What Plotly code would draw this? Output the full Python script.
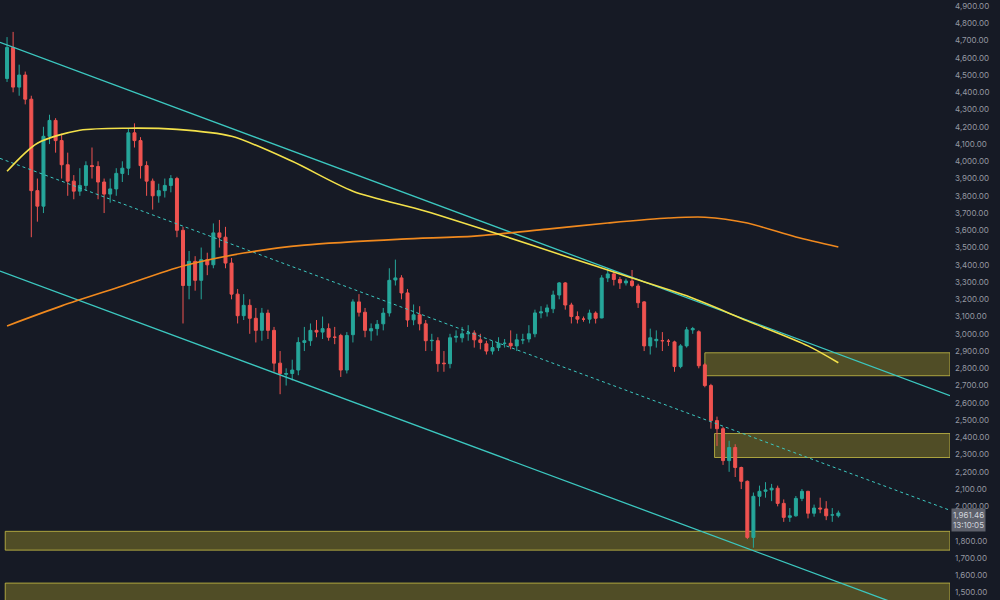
import plotly.graph_objects as go

opens = [4480,4660,4430,4500,4360,3830,3740,4145,4237,4120,3980,3885,3827,3860,3975,3970,3880,3810,3840,3930,
 3960,4165,4120,3975,3885,3800,3830,3860,3900,3600,3280,3420,3310,3430,3400,3585,3560,3410,3230,3105,
 3165,3090,3020,3120,3020,2830,2765,2770,2790,2950,2960,3020,3010,3030,2980,2990,2790,2995,3185,3125,
 3017,3030,3058,3121,3312,3324,3237,3081,3110,3058,2960,2960,2830,2827,2980,2977,3000,3005,2965,2942,
 2900,2920,2945,2945,2930,2965,2970,3000,3121,3127,3145,3225,3295,3167,3100,3085,3085,3120,3092,3324,
 3347,3315,3295,3306,3277,3185,2930,2960,2960,2957,2953,2810,2930,3023,3012,2820,2700,2497,2450,2265,
 2341,2225,2145,1820,2058,2087,2095,2105,2017,1936,1945,2046,2087,1960,1990,1985,1950,1945]
closes = [4660,4430,4500,4360,3830,3740,4145,4237,4120,3980,3885,3827,3860,3975,3970,3880,3810,3840,3930,3960,
 4165,4120,3975,3885,3800,3830,3860,3900,3600,3280,3420,3310,3430,3400,3585,3560,3410,3230,3105,3165,
 3090,3020,3120,3020,2830,2770,2770,2790,2950,2960,3020,3010,3030,2980,2980,2790,2990,3185,3125,3020,
 3030,3055,3120,3310,3324,3237,3080,3110,3058,2960,2962,2827,2827,2977,2985,3000,3005,2965,2950,2900,
 2920,2945,2945,2930,2965,2965,3000,3121,3127,3150,3225,3295,3167,3100,3085,3085,3120,3090,3324,3347,
 3315,3295,3306,3280,3180,2930,2977,2968,2960,2957,2810,2930,3023,3030,2815,2700,2497,2450,2265,2341,
 2225,2145,1820,2058,2087,2095,2105,2017,1936,1945,2046,2087,1960,1990,1985,1945,1950,1961.46]
highs = [4720,4750,4560,4520,4380,3900,4200,4270,4250,4160,4050,3920,3960,4000,4080,4000,3900,3900,3960,4000,
 4190,4220,4140,4000,3900,3870,3900,3920,3910,3620,3480,3450,3500,3470,3640,3660,3620,3440,3260,3230,
 3200,3150,3150,3140,3040,2900,2800,2850,2980,3040,3060,3080,3100,3060,3040,3000,3010,3200,3230,3150,
 3060,3080,3150,3380,3430,3340,3260,3170,3160,3080,3000,2980,2900,3000,3020,3040,3050,3020,3000,2960,
 2960,2980,2970,3020,3000,3000,3050,3140,3160,3170,3250,3300,3300,3180,3130,3100,3140,3130,3340,3380,
 3360,3330,3320,3370,3290,3190,3030,3020,3010,2970,2960,2940,3040,3040,3020,2830,2710,2520,2460,2380,
 2360,2230,2150,2080,2120,2140,2130,2120,2040,1990,2060,2100,2090,2010,2050,2030,1990,1975]
lows = [4460,4400,4380,4330,3560,3650,3700,4100,4050,3900,3800,3780,3800,3830,3900,3780,3700,3760,3800,3880,
 3920,4080,3900,3800,3720,3760,3790,3820,3560,3060,3200,3250,3200,3340,3380,3500,3380,3200,3060,3080,
 3000,2950,2960,2970,2780,2650,2700,2730,2760,2900,2930,2980,2970,2960,2940,2750,2770,2950,3100,2980,
 2960,2990,3020,3100,3280,3200,3040,3050,3020,2900,2900,2780,2780,2800,2950,2950,2960,2920,2910,2880,
 2880,2900,2920,2910,2900,2940,2950,2980,3090,3100,3120,3200,3140,3060,3060,3070,3060,3060,3090,3300,
 3280,3260,3280,3270,3150,2900,2880,2920,2900,2930,2780,2800,2920,3000,2800,2690,2450,2350,2240,2200,
 2170,2100,1810,1760,2000,2050,2030,2000,1910,1910,1940,2030,1930,1940,1960,1920,1910,1935]

ma_fast_idx = [0,5,12,20,28,37,47,57,69,82,92,102,112,122,132,137]
ma_fast_val = [3942,4105,4180,4192,4185,4145,4000,3827,3711,3566,3450,3335,3220,3075,2930,2832]
ma_slow_idx = [0,9,19,29,39,49,65,77,89,99,109,115,122,130,137]
ma_slow_val = [3046,3162,3277,3393,3468,3514,3549,3566,3607,3642,3671,3676,3642,3561,3503]

x_range = [-1.16, 155.4]
upper_line = [4690, 2642]
mid_line = [4017, 1977]
lower_line = [3364, 1320]

zones_x0 = [115.0, 116.6, -0.3, -0.3]
zones_p = [(2757, 2890), (2283, 2422), (1746, 1855), (1440, 1555)]

yticks = [v for v in range(1500, 5000, 100) if v != 1900]
idx = list(range(len(opens)))

fig = go.Figure()
for x0, (p0, p1) in zip(zones_x0, zones_p):
    fig.add_shape(type="rect", x0=x0, x1=x_range[1], y0=p0, y1=p1, xref="x", yref="y",
                  fillcolor="rgba(150,140,40,0.45)", line=dict(color="rgba(200,190,70,0.8)", width=1), layer="below")

fig.add_trace(go.Scatter(x=x_range, y=upper_line, mode="lines", line=dict(color="#3cc8c0", width=1.3), hoverinfo="skip"))
fig.add_trace(go.Scatter(x=x_range, y=lower_line, mode="lines", line=dict(color="#3cc8c0", width=1.3), hoverinfo="skip"))
fig.add_trace(go.Scatter(x=x_range, y=mid_line, mode="lines", line=dict(color="#3cc8c0", width=1, dash="dot"), hoverinfo="skip"))
fig.add_trace(go.Scatter(x=ma_slow_idx, y=ma_slow_val, mode="lines", line=dict(color="#f0891e", width=1.6, shape="spline", smoothing=0.8)))
fig.add_trace(go.Scatter(x=ma_fast_idx, y=ma_fast_val, mode="lines", line=dict(color="#f3e14a", width=1.6, shape="spline", smoothing=0.8)))
fig.add_trace(go.Candlestick(x=idx, open=opens, high=highs, low=lows, close=closes,
    increasing=dict(line=dict(color="#26a69a", width=1), fillcolor="#26a69a"),
    decreasing=dict(line=dict(color="#ef5350", width=1), fillcolor="#ef5350"),
    whiskerwidth=0))

fig.add_annotation(x=1, xref="paper", xanchor="left", y=1961.46, yref="y", yanchor="middle",
                   text="1,961.46<br>13:10:05", showarrow=False, bgcolor="#5d606b",
                   font=dict(color="#d1d4dc", size=8, family="Inter"), align="left", borderpad=1, xshift=1, yshift=-7)

fig.update_layout(
    width=1000, height=600, showlegend=False,
    paper_bgcolor="#161a25", plot_bgcolor="#161a25",
    margin=dict(l=0, r=50, t=0, b=0),
    xaxis=dict(range=x_range, visible=False, rangeslider=dict(visible=False)),
    yaxis=dict(range=[1457, 4935], side="right", tickvals=yticks,
               ticktext=[f"{v:,.2f}" for v in yticks], showgrid=False, zeroline=False,
               tickfont=dict(color="#9598a1", size=8, family="Inter"), ticks="", ticklabelstandoff=4),
)
fig.write_html("out.html", config={"displayModeBar": False},
               post_script="document.body.style.margin='0';document.body.style.background='#161a25';")
